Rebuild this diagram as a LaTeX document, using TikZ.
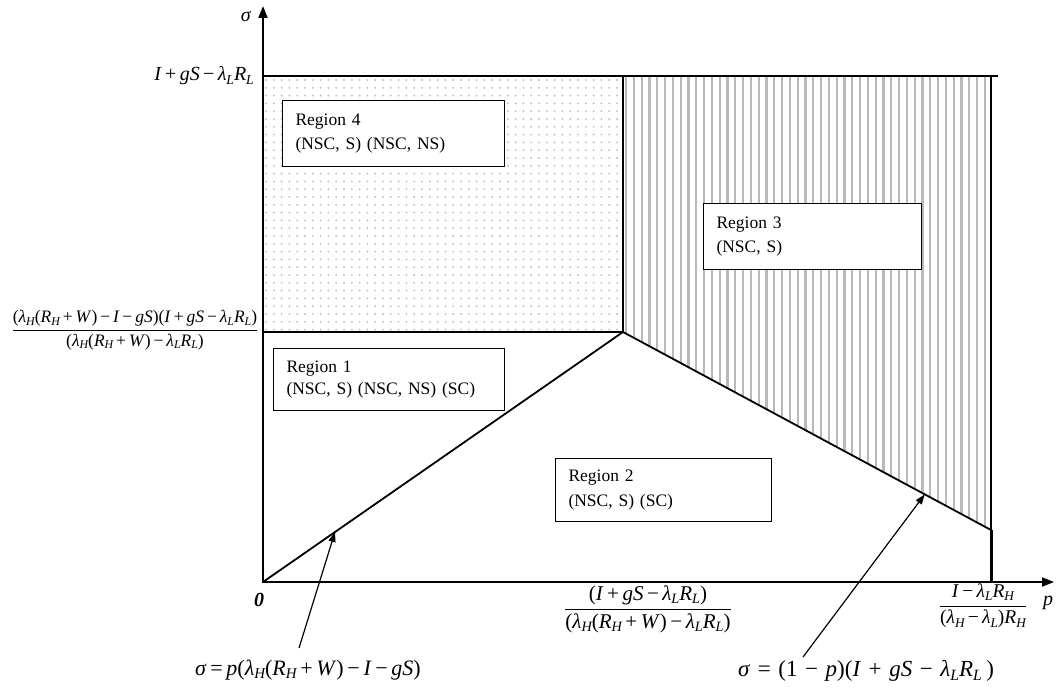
\documentclass[tikz,border=0pt]{standalone}
\usepackage{fontspec}
\setmainfont{Liberation Serif}
\usepackage{graphicx}
\usetikzlibrary{arrows.meta,calc}
\newcommand\mv[1]{\textit{#1}}
\newcommand\lo[1]{\raisebox{-0.35ex}{\scalebox{0.68}{\itshape #1}}}
\newcommand\pl{\,+\,}
\newcommand\mn{\,−\,}
\newcommand\eqs{\,=\,}
\newcommand\wpl{\hspace{0.33em}+\hspace{0.33em}}
\newcommand\wmn{\hspace{0.33em}−\hspace{0.33em}}
\newcommand\weq{\hspace{0.33em}=\hspace{0.33em}}
\newcommand\fr[2]{$\textstyle\frac{\hbox{\rule[-0.42em]{0pt}{0.5em}#1}}{\hbox{\rule{0pt}{0.86em}#2}}$}
\newcommand\fs[1]{\fontsize{#1}{#1}\selectfont}
\begin{document}
\begin{tikzpicture}[x=1pt,y=-1pt,
  every node/.style={font=\fs{17.5}, inner sep=0pt},
  bound/.style={line width=1.8pt, line cap=rect},
  axis/.style={line width=1.8pt, -{Triangle[length=12pt,width=9pt]}},
  regbox/.style={draw, line width=1pt, fill=white, anchor=north west, align=left, inner xsep=13pt, inner ysep=9pt},
  pointer/.style={line width=1.2pt, -{Triangle[length=10pt,width=7pt]}},
  hatch/.style={gray!55, line width=2.2pt},
  dot/.style={fill=gray!50}]
\useasboundingbox (0,0) rectangle (1056,690);
% key points
\coordinate (O) at (263,582);
\coordinate (Ytop) at (263,6);
\coordinate (Xend) at (1054,582);
\coordinate (TL) at (263,76);
\coordinate (TM) at (623,76);
\coordinate (TR) at (991,76);
\coordinate (TRx) at (997,76);
\coordinate (P) at (623,332);
\coordinate (L4) at (263,332);
\coordinate (RB) at (991,530);
\coordinate (RX) at (991,582);
% region 4 dots
\begin{scope}
  \clip (TL) rectangle (P);
  \foreach \i in {0,...,46} {
    \foreach \j in {0,...,33} {
      \fill[dot] (266+\i*7.8,80+\j*7.8) circle (1.05pt);
    }
  }
\end{scope}
% region 3 hatching
\begin{scope}
  \clip (TM) -- (TR) -- (RB) -- (P) -- cycle;
  \foreach \i in {0,...,48} {
    \draw[hatch] (626+\i*7.8,70) -- (626+\i*7.8,540);
  }
\end{scope}
% boundaries
\draw[bound] (TL) -- (TRx);
\draw[bound] (TR) -- (RB);
\draw[line width=3pt] (RB) -- (RX);
\draw[bound] (TM) -- (P);
\draw[bound] (L4) -- (P);
\draw[bound] (O) -- (P) -- (RB);
% axes
\draw[axis] (O) -- (Ytop);
\draw[axis] (O) -- (Xend);
% boxes
\node[regbox, text width=196pt, minimum height=66pt] (b4) at (282,100) {Region 4\\[7pt](NSC, S) (NSC, NS)};
\node[regbox, text width=192pt, minimum height=66pt] (b3) at (703,203) {Region 3\\[7pt](NSC, S)};
\node[regbox, text width=205pt, minimum height=62pt, inner ysep=11pt] (b1) at (273,348) {Region 1\\[4pt](NSC, S) (NSC, NS) (SC)};
\node[regbox, text width=190pt, minimum height=63pt] (b2) at (555,458) {Region 2\\[7pt](NSC, S) (SC)};
% axis labels
\node[font=\fs{20}] (sig) at (246,16) {\mv{σ}};
\node[font=\fs{20}] (pl) at (1048,603) {\mv{p}};
\node[font=\fs{20}] (zero) at (259,600) {\textbf{\textit{0}}};
\node[anchor=east, font=\fs{20}] (f1) at (254,76) {\mv{I}\pl\mv{gS}\mn\mv{λ}\lo{L}\mv{R}\lo{L}};
\node[font=\fs{17.5}] (f2) at (135,330) {\fr{(\mv{λ}\lo{H}(\mv{R}\lo{H}\pl\mv{W})\mn\mv{I}\mn\mv{gS})(\mv{I}\pl\mv{gS}\mn\mv{λ}\lo{L}\mv{R}\lo{L})}{(\mv{λ}\lo{H}(\mv{R}\lo{H}\pl\mv{W})\mn\mv{λ}\lo{L}\mv{R}\lo{L})}};
\node[font=\fs{21}] (f3) at (648,609) {\fr{(\mv{I}\pl\mv{gS}\mn\mv{λ}\lo{L}\mv{R}\lo{L})}{(\mv{λ}\lo{H}(\mv{R}\lo{H}\pl\mv{W})\mn\mv{λ}\lo{L}\mv{R}\lo{L})}};
\node[font=\fs{19.5}] (f4) at (983,606) {\fr{\mv{I}\mn\mv{λ}\lo{L}\mv{R}\lo{H}}{(\mv{λ}\lo{H}\mn\mv{λ}\lo{L})\mv{R}\lo{H}}};
\node[anchor=west, font=\fs{22}] (f5) at (195,670) {\mv{σ}\eqs\mv{p}(\mv{λ}\lo{H}(\mv{R}\lo{H}\pl\mv{W})\mn\mv{I}\mn\mv{gS})};
\node[anchor=west, font=\fs{23}] (f6) at (738,671) {\mv{σ}\weq(1\wmn\mv{p})(\mv{I}\wpl\mv{gS}\wmn\mv{λ}\lo{L}\mv{R}\lo{L}\hspace{0.2em})};
% pointers
\coordinate (t5) at ($(O)!0.2!(P)$);
\coordinate (t6) at ($(P)!0.82!(RB)$);
\draw[pointer] (299,648) -- (t5);
\draw[pointer] (803,657) -- (t6);
\end{tikzpicture}
\end{document}
